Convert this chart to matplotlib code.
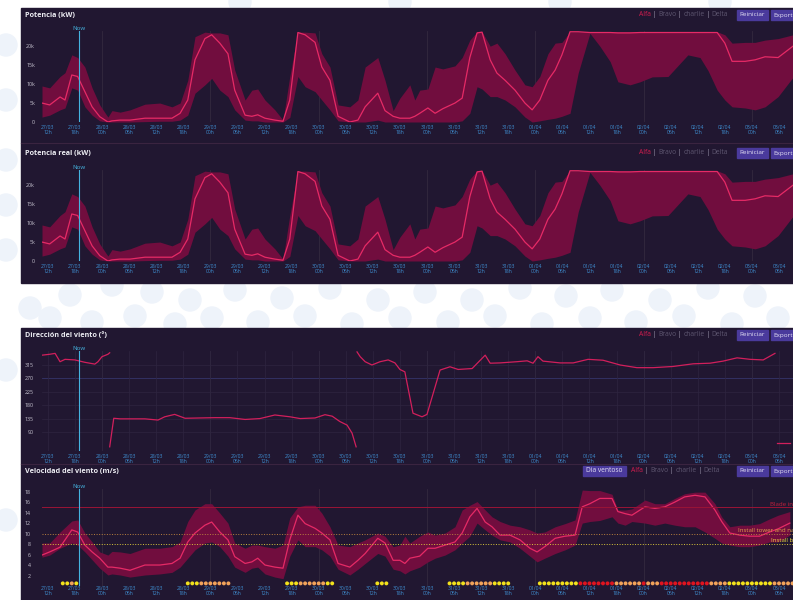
import matplotlib.pyplot as plt
import numpy as np
import pandas as pd
from matplotlib.patches import Rectangle, Circle, FancyBboxPatch

plt.rcParams['font.family'] = ['Open Sans', 'DejaVu Sans']

# ---- data (hours since 27/03 00h) ----
start = pd.Timestamp('2023-03-27')
now_hour = 18.9

p_hours = [10.7, 12.4, 14.7, 15.8, 17.3, 18.6, 20.2, 21.8, 23.5, 25.3, 26.2, 28.0, 30.2, 33.5,
           36.8, 39.5, 41.3, 43.0, 44.6, 46.8, 48.3, 50.1, 51.9, 53.4, 55.7, 57.2, 58.5, 60.1,
           62.3, 64.1, 65.6, 67.4, 69.0, 71.2, 72.7, 74.5, 76.3, 78.9, 80.7, 82.3, 85.1, 86.7,
           88.5, 90.0, 92.2, 93.3, 94.4, 96.2, 97.8, 99.5, 102.2, 103.8, 105.5, 107.1, 108.2,
           110.0, 111.5, 113.3, 115.5, 117.7, 119.3, 121.0, 122.8, 124.4, 125.9, 127.7, 129.5,
           132.1, 134.3, 136.6, 138.3, 141.0, 143.2, 145.9, 149.4, 152.1, 153.8, 156.5, 158.3,
           160.3, 162.0, 163.6, 166.5, 168.7, 170.9, 173.8, 177.1]
p_lo = [1.3, 1.8, 3.2, 3.7, 9.0, 8.4, 4.0, 1.8, 0.3, 0, 0, 0, 0, 0.1,
        0.2, 0.2, 0.5, 1.8, 7.6, 9.8, 11.5, 8.4, 6.7, 3.2, 0.5, 0.3, 0.3, 0,
        0, 0, 1.2, 12.0, 9.3, 8.0, 5.8, 3.2, 0.3, 0, 0, 0, 0.5, 0,
        0, 0, 0, 0, 0, 0, 0, 0, 0, 0.3, 2.3, 9.3, 8.7,
        6.7, 6.7, 5.8, 4.0, 1.3, 0, 0.3, 0.7, 1.0, 1.5, 2.3, 12.9,
        23.4, 20.0, 15.9, 10.6, 9.8, 10.6, 11.9, 12.0, 15.5, 17.7, 17.0, 13.5,
        8.4, 5.8, 4.0, 3.7, 3.2, 4.0, 6.7, 11.8]
p_mid = [5.0, 4.5, 6.6, 5.8, 12.4, 12.0, 8.0, 4.0, 1.4, 0, 0.3, 0.5, 0.5, 1.0,
         1.0, 1.0, 2.3, 5.8, 16.4, 22.0, 23.0, 20.8, 18.0, 8.4, 1.8, 1.5, 1.9, 1.0,
         0.5, 0.2, 5.8, 23.6, 23.0, 21.0, 14.5, 11.0, 1.5, 0, 0.5, 4.0, 7.6, 3.0,
         1.5, 1.0, 1.0, 1.5, 2.3, 3.7, 2.3, 3.5, 5.0, 6.3, 17.0, 23.5, 23.7,
         16.4, 12.9, 11.0, 8.4, 5.0, 3.2, 5.8, 11.0, 13.7, 17.7, 23.8, 23.8,
         23.6, 23.6, 23.6, 23.5, 23.5, 23.6, 23.6, 23.6, 23.6, 23.6, 23.6, 23.6,
         23.6, 20.8, 16.0, 16.0, 16.4, 17.2, 17.0, 20.0]
p_hi = [9.5, 9.0, 12.0, 13.0, 17.7, 17.0, 14.5, 9.0, 4.5, 1.3, 3.0, 2.6, 3.2, 4.7,
        5.0, 4.0, 5.0, 11.0, 22.5, 23.7, 23.5, 23.5, 23.0, 13.7, 5.8, 8.4, 8.7, 5.8,
        3.2, 0.5, 12.0, 23.7, 23.7, 23.5, 18.0, 14.5, 4.5, 4.0, 5.8, 14.5, 17.0, 11.0,
        3.0, 6.3, 9.8, 5.8, 8.4, 8.7, 14.5, 14.0, 14.8, 17.0, 21.6, 23.8, 23.8,
        20.0, 20.8, 18.0, 13.7, 9.8, 9.3, 12.0, 18.0, 20.8, 21.0, 23.8, 23.8,
        23.8, 23.8, 23.8, 23.8, 23.8, 23.8, 23.8, 23.8, 23.8, 23.8, 23.8, 23.8,
        23.8, 23.0, 20.8, 21.0, 21.0, 21.6, 22.0, 23.0]

# wind direction, split where the line breaks
d_hours = [[10.7, 12.4, 13.6, 14.7, 15.8, 18.0, 20.2, 22.4, 23.1, 24.0, 25.3, 25.7],
           [25.7, 26.6, 28.0, 30.2, 33.5, 36.4, 37.9, 40.1, 42.4, 45.7, 49.0, 52.3, 55.7,
            59.0, 62.3, 65.6, 67.9, 71.2, 73.4, 75.0, 76.7, 78.3, 79.4, 80.3],
           [80.5, 81.2, 82.3, 83.8, 85.6, 87.4, 88.9, 90.0, 91.1, 92.9, 94.9, 96.0, 98.9,
            101.1, 102.9, 106.0, 108.9, 110.0, 112.2, 115.9, 118.2, 119.5, 120.6, 121.7,
            125.5, 128.4, 131.7, 135.0, 138.8, 142.5, 146.1, 150.5, 155.0, 158.7, 161.6,
            164.7, 167.6, 170.5, 173.1],
           [173.6, 176.5]]
d_vals = [[348, 351, 354, 326, 334, 332, 324, 318, 326, 343, 351, 356],
          [40, 136, 134, 134, 134, 130, 141, 149, 136, 137, 138, 138, 132,
           135, 147, 141, 135, 137, 148, 143, 125, 113, 86, 40],
          [359, 343, 326, 315, 326, 332, 322, 300, 292, 153, 141, 149, 298,
           309, 300, 303, 348, 321, 322, 326, 329, 321, 343, 328,
           322, 322, 334, 331, 315, 306, 306, 310, 319, 321, 328,
           339, 334, 332, 354],
          [52, 52]]

# wind speed
w_hours = [10.7, 12.4, 14.7, 17.3, 18.6, 20.2, 21.8, 23.5, 25.3, 26.2, 28.0, 30.2, 33.5,
           36.8, 39.5, 41.3, 43.0, 44.6, 46.8, 48.3, 50.1, 51.9, 53.4, 55.7, 57.2, 58.5,
           60.1, 62.3, 64.1, 65.6, 67.4, 69.0, 71.2, 72.7, 74.5, 76.3, 78.9, 80.7, 82.3,
           85.1, 86.7, 88.5, 90.0, 91.1, 92.2, 94.4, 96.2, 97.8, 100.0, 102.2, 103.8, 105.5,
           107.1, 108.9, 110.4, 112.2, 114.4, 116.6, 118.8, 120.4, 122.1, 124.4, 126.6,
           128.8, 130.4, 132.1, 134.3, 137.0, 138.3, 139.9, 141.4, 144.3, 146.5, 148.7,
           150.9, 153.1, 155.4, 157.6, 159.8, 161.3, 163.1, 165.3, 167.5, 169.7, 171.9,
           173.8, 176.4]
w_lo = [5.5, 5.9, 7.2, 8.2, 7.8, 6.5, 5.0, 3.4, 2.1, 2.3, 2.1, 1.7, 2.1,
        2.3, 2.6, 3.6, 5.3, 6.9, 8.2, 8.4, 7.5, 5.7, 3.6, 2.6, 3.4, 3.6,
        2.3, 1.7, 1.4, 5.7, 8.8, 7.5, 7.5, 6.9, 5.7, 3.2, 2.1, 3.2, 4.3,
        6.2, 5.7, 3.2, 2.9, 2.3, 2.9, 3.6, 4.6, 5.3, 5.9, 6.9, 8.2, 9.5,
        12.0, 10.7, 9.7, 8.8, 8.4, 7.2, 5.7, 4.6, 5.3, 6.2, 6.9,
        7.8, 12.0, 12.3, 12.5, 13.2, 12.0, 11.6, 12.3, 12.0, 11.6, 12.0,
        11.6, 11.3, 11.3, 10.3, 9.1, 8.2, 7.8, 7.5, 7.5, 7.8, 8.4,
        8.4, 9.7]
w_mid = [5.9, 6.5, 7.4, 10.7, 10.3, 7.8, 6.5, 5.3, 3.6, 3.6, 3.4, 3.0, 4.0,
         4.0, 4.3, 5.3, 8.4, 10.1, 11.6, 12.2, 10.3, 8.8, 5.6, 4.3, 4.6, 5.3,
         4.0, 3.6, 3.4, 8.8, 13.5, 11.9, 11.0, 10.1, 8.8, 4.3, 3.6, 4.9, 6.2,
         9.1, 8.2, 4.9, 4.9, 4.3, 5.3, 5.7, 7.2, 7.2, 7.8, 8.4, 10.1, 13.2,
         14.8, 12.2, 11.3, 9.7, 9.7, 8.8, 7.2, 6.5, 7.5, 9.1, 9.5,
         9.7, 15.1, 15.7, 16.7, 16.7, 14.2, 13.8, 13.5, 15.1, 14.8, 15.1,
         16.0, 17.0, 17.3, 17.0, 14.5, 12.3, 10.1, 9.7, 9.5, 9.5, 10.3,
         10.9, 12.0]
w_hi = [8.2, 8.2, 10.3, 12.4, 12.6, 10.1, 8.4, 6.5, 5.9, 6.6, 6.5, 6.2, 7.2,
        7.2, 7.5, 8.4, 12.3, 14.5, 15.7, 15.7, 13.9, 12.0, 8.2, 7.2, 7.8, 7.8,
        7.5, 7.2, 7.8, 13.0, 15.1, 15.4, 15.4, 13.9, 11.3, 7.8, 7.5, 8.2, 8.8,
        10.1, 9.5, 7.5, 7.8, 9.5, 8.2, 9.5, 10.3, 9.7, 10.1, 11.3, 14.5, 15.4,
        16.1, 14.5, 13.2, 12.3, 11.6, 11.3, 10.7, 10.1, 10.3, 11.3, 11.9,
        12.6, 18.3, 18.2, 18.2, 17.5, 14.5, 14.5, 14.7, 16.4, 15.7, 15.7,
        16.7, 17.6, 17.9, 17.9, 15.7, 13.2, 11.3, 11.6, 11.6, 11.9, 12.8,
        13.5, 14.2]

# hourly work-window dots (Y = ok, O = marginal, R = no)
dot_start = [15.3, 43, 65, 85, 101, 121]
dot_codes = ['YYOY', 'YYYOOOOOOO', 'YYYOOOOOOYY', 'YYY', 'YYYYOOOOOOYYYY',
             'YYYYYYYYY' + 'RRRRRRRR' + 'OOOOOO' + 'R' + 'OOO' + 'RRRRRRRRRRR'
             + 'OOOO' + 'YYYYYYYYYY' + 'OOOOO']
dot_colors = {'Y': '#f3e21c', 'O': '#f2a35a', 'R': '#e0141f'}

limit_vals = [15, 10, 8]
limit_labels = ['Blade installation', 'Install tower and nacelle', 'Install blades']
limit_label_hours = [172.0, 164.9, 172.2]
limit_colors = ['#9a1436', '#b9803e', '#d8c53a']
limit_text_colors = ['#c8203c', '#e0a04a', '#ecd640']
limit_styles = ['-', ':', ':']

tick_hours = list(range(12, 175, 6))
tick_labels = [(start + pd.Timedelta(hours=h)).strftime('%d/%m\n%Hh') for h in tick_hours]
day_hours = list(range(24, 175, 24))

# ---- styling ----
W, H = 793, 600
BG = '#211731'
FILL = '#710d3e'
LINE = '#e62a66'
XTICK = '#3f8fd2'
NOWC = '#45b3e0'

fig = plt.figure(figsize=(W / 100, H / 100), dpi=100)
fig.patch.set_facecolor('white')

# decorative background dots
circ_x = [6, 6, 6, 6, 6, 6, 6, 30, 70, 112, 152, 190, 235, 282, 330, 378, 425, 472, 520,
          566, 612, 660, 708, 755, 50, 92, 135, 175, 212, 258, 305, 352, 400, 448, 495,
          542, 590, 636, 684, 732, 778, 240, 400, 560, 720]
circ_y = [45, 100, 160, 205, 250, 370, 520, 308, 295, 285, 292, 300, 290, 298, 288, 300,
          292, 300, 288, 296, 290, 300, 288, 296, 318, 322, 316, 324, 318, 322, 316, 324,
          318, 322, 316, 324, 318, 322, 316, 324, 318, 2, 2, 2, 2]
for cx, cy in zip(circ_x, circ_y):
    fig.add_artist(Circle((cx / 100, (H - cy) / 100), 0.11, transform=fig.dpi_scale_trans,
                          color='#eef3fa', zorder=0))


def fbox(x0, y0, x1, y1):
    return [x0 / W, 1 - y1 / H, (x1 - x0) / W, (y1 - y0) / H]


for top, bot in [(8, 143), (143, 283), (328, 464), (464, 600)]:
    fig.add_artist(Rectangle((21 / W, 1 - bot / H), (W - 21) / W, (bot - top) / H,
                             transform=fig.transFigure, color=BG, zorder=1))
for yy in [143, 464]:
    fig.add_artist(plt.Line2D([21 / W, 1], [1 - yy / H] * 2, transform=fig.transFigure,
                              color='#3a2440', lw=0.8, zorder=2))


def header(top, title, extra=None):
    fig.text(25 / W, 1 - (top + 7) / H, title, fontsize=5.2, fontweight='bold',
             color='#ececf2', va='center', ha='left', zorder=5)
    yb = top + 7
    x = 639
    if extra:
        fig.add_artist(FancyBboxPatch((583 / W, 1 - (yb + 5) / H), 43 / W, 10 / H,
                                      boxstyle='square,pad=0', transform=fig.transFigure,
                                      color='#4a3a9c', zorder=4))
        fig.text(604.5 / W, 1 - yb / H, extra, fontsize=4.8, color='#e4e0f4',
                 ha='center', va='center', zorder=5)
        x = 631
    parts = [('Alfa', '#d41d4f'), (' | ', '#9a94aa'), ('Bravo', '#5e5670'),
             (' | ', '#9a94aa'), ('charlie', '#5e5670'), (' | ', '#9a94aa'),
             ('Delta', '#5e5670')]
    r = fig.canvas.get_renderer()
    for s, c in parts:
        tt = fig.text(x / W, 1 - yb / H, s, fontsize=4.9, color=c, ha='left', va='center',
                      zorder=5)
        x += tt.get_window_extent(r).width
    for x0, w, lab in [(737, 31, 'Reiniciar'), (771, 30, 'Export')]:
        fig.add_artist(FancyBboxPatch((x0 / W, 1 - (yb + 5) / H), w / W, 10 / H,
                                      boxstyle='square,pad=0', transform=fig.transFigure,
                                      color='#4a3a9c', zorder=4))
        fig.text((x0 + 2.5) / W, 1 - yb / H, lab, fontsize=4.6, color='#e4e0f4',
                 ha='left', va='center', zorder=5)


def base_axes(rect, ylim, yticks, ylabels, ypad, xpad=2):
    ax = fig.add_axes(rect, zorder=3)
    ax.set_facecolor('none')
    ax.set_xlim(10.7, 177.1)
    ax.set_ylim(*ylim)
    for s in ax.spines.values():
        s.set_visible(False)
    ax.set_xticks(tick_hours)
    ax.set_xticklabels(tick_labels, fontsize=3.6, color=XTICK, linespacing=0.95)
    ax.set_yticks(yticks)
    ax.set_yticklabels(ylabels, fontsize=3.8, color='#c9c6d2')
    ax.tick_params(axis='x', length=0, pad=xpad)
    ax.tick_params(axis='y', length=0, pad=ypad)
    for h in day_hours:
        ax.axvline(h, color='#34293f', lw=0.6, zorder=0)
    ax.axvline(now_hour, color=NOWC, lw=0.8, zorder=4)
    ax.text(now_hour, ylim[1], 'Now', color=NOWC, fontsize=4.4, ha='center', va='bottom',
            transform=ax.transData)
    return ax


# power panels
for top, name, rect in [(8, 'Potencia (kW)', fbox(42, 31, 793, 122)),
                        (146, 'Potencia real (kW)', fbox(42, 170, 793, 261))]:
    header(top, name)
    ax = base_axes(rect, (0, 24), [0, 5, 10, 15, 20], ['0', '5k', '10k', '15k', '20k'], 5)
    ax.fill_between(p_hours, p_lo, p_hi, color=FILL, lw=0, zorder=1)
    ax.plot(p_hours, p_mid, color=LINE, lw=0.9, zorder=2)

# wind direction
header(328, 'Dirección del viento (°)')
ax = base_axes(fbox(42, 351, 793, 451), (26, 362), [90, 135, 180, 225, 270, 315],
               ['90', '135', '180', '225', '270', '315'], 6)
for v in [90, 135, 180, 225, 315]:
    ax.axhline(v, color='#2e2540', lw=0.5, zorder=0)
ax.axhline(270, color='#35346a', lw=0.6, zorder=0)
for h in tick_hours:
    ax.axvline(h, color='#2e2540', lw=0.5, zorder=0)
for hh, vv in zip(d_hours, d_vals):
    ax.plot(hh, vv, color='#d21f5c', lw=0.9, zorder=2)

# wind speed
header(464, 'Velocidad del viento (m/s)', extra='Dia ventoso')
ax = base_axes(fbox(42, 489, 793, 586), (0, 18.5), list(range(2, 19, 2)),
               [str(v) for v in range(2, 19, 2)], 8, xpad=0)
ax.fill_between(w_hours, w_lo, w_hi, color=FILL, lw=0, zorder=1)
ax.plot(w_hours, w_mid, color=LINE, lw=0.9, zorder=2)
for val, lab, lh, lc, tc, ls in zip(limit_vals, limit_labels, limit_label_hours,
                                    limit_colors, limit_text_colors, limit_styles):
    ax.axhline(val, color=lc, lw=0.7, ls=ls, zorder=3)
    ax.text(lh, val + 0.15, lab, color=tc, fontsize=4.4, ha='left', va='bottom',
            zorder=5, clip_on=False)
for s0, code in zip(dot_start, dot_codes):
    hrs = s0 + np.arange(len(code))
    ax.scatter(hrs, np.full(len(hrs), 0.5), s=8, c=[dot_colors[c] for c in code],
               lw=0, zorder=4, clip_on=False)

fig.savefig('out.png', dpi=100, facecolor='white')
